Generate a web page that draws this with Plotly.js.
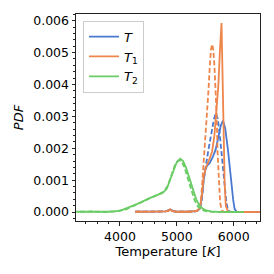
<!DOCTYPE html>
<html>
<head>
<meta charset="utf-8">
<script src="https://cdn.plot.ly/plotly-3.0.1.min.js"></script>
<style>html,body{margin:0;padding:0;background:#fff;}#chart{width:274px;height:274px;}</style>
</head>
<body>
<div id="chart"></div>
<script>
// T (blue)
const T_x = [4270, 4600, 4800, 4860, 4890, 4930, 5000, 5200, 5350, 5400, 5440, 5470, 5500, 5530, 5580, 5630, 5680, 5730, 5770, 5810, 5850, 5900, 5930, 5960, 5990, 6015, 6050, 6470];
const T_y = [0.00001, 0.00001, 0.00002, 0.00005, 0.00008, 0.00003, 0.00001, 0.00001, 0.00003, 0.00010, 0.00045, 0.00100, 0.00132, 0.00145, 0.00155, 0.00172, 0.00195, 0.00235, 0.00270, 0.00287, 0.00262, 0.00192, 0.00135, 0.00085, 0.00038, 0.00010, 0.00001, 0];
const Td_x = [4270, 4600, 4800, 4860, 4890, 4930, 5000, 5200, 5350, 5404, 5440, 5470, 5510, 5550, 5610, 5650, 5685, 5720, 5750, 5784, 5815, 5842, 5870, 5900, 5950, 6470];
const Td_y = [0.00001, 0.00001, 0.00002, 0.00006, 0.00009, 0.00003, 0.00001, 0.00001, 0.00003, 0.00008, 0.00040, 0.00100, 0.00150, 0.00190, 0.00250, 0.00290, 0.00310, 0.00292, 0.00250, 0.00192, 0.00130, 0.00080, 0.00030, 0.00005, 0, 0];
// T1 (orange)
const T1_x = [4270, 4600, 4800, 4860, 4880, 4920, 5000, 5200, 5350, 5404, 5440, 5470, 5510, 5560, 5620, 5660, 5700, 5730, 5755, 5775, 5785, 5795, 5810, 5825, 5840, 5860, 5900, 6470];
const T1_y = [0.00001, 0.00001, 0.00002, 0.00005, 0.00009, 0.00003, 0.00001, 0.00001, 0.00004, 0.00012, 0.00050, 0.00110, 0.00140, 0.00160, 0.00190, 0.00240, 0.00320, 0.00400, 0.00500, 0.00570, 0.00593, 0.00500, 0.00360, 0.00200, 0.00090, 0.00020, 0.00001, 0];
const T1d_x = [4270, 4600, 4800, 4860, 4880, 4920, 5000, 5200, 5340, 5390, 5420, 5450, 5475, 5500, 5530, 5555, 5580, 5600, 5620, 5640, 5660, 5680, 5700, 5715, 5735, 5760, 5790, 5830, 6470];
const T1d_y = [0.00001, 0.00001, 0.00002, 0.00004, 0.00008, 0.00003, 0.00001, 0.00001, 0.00003, 0.00008, 0.00030, 0.00100, 0.00160, 0.00240, 0.00310, 0.00380, 0.00460, 0.00510, 0.00526, 0.00510, 0.00460, 0.00390, 0.00300, 0.00190, 0.00090, 0.00030, 0.00005, 0, 0];
// T2 (green)
const T2_x = [3230, 3400, 3600, 3800, 4000, 4200, 4350, 4500, 4650, 4750, 4820, 4880, 4940, 5000, 5060, 5110, 5160, 5220, 5280, 5340, 5400, 5460, 5520, 5600, 5700, 5900, 6180];
const T2_y = [0.00001, 0.00001, 0.00002, 0.00001, 0.00004, 0.00018, 0.00029, 0.00042, 0.00053, 0.00060, 0.00072, 0.00100, 0.00133, 0.00157, 0.00167, 0.00160, 0.00140, 0.00104, 0.00068, 0.00040, 0.00020, 0.00010, 0.00005, 0.00002, 0.00001, 0, 0];
const T2d_x = [3300, 3500, 3700, 3900, 4100, 4250, 4400, 4550, 4680, 4770, 4840, 4900, 4960, 5030, 5080, 5130, 5190, 5250, 5310, 5370, 5430, 5500, 5600, 5800, 6100];
const T2d_y = [0.00001, 0.00002, 0.00000, 0.00002, 0.00008, 0.00020, 0.00031, 0.00045, 0.00056, 0.00064, 0.00082, 0.00113, 0.00145, 0.00162, 0.00160, 0.00142, 0.00105, 0.00068, 0.00038, 0.00018, 0.00008, 0.00003, 0.00001, 0, 0];

const C_BLUE = '#4878d0', C_ORANGE = '#ee854a', C_GREEN = '#6acc64';
const LW = 1.8, DASH = '5px,2.5px';

const traces = [
  {x: T_x, y: T_y, name: '<i>T</i>', line: {color: C_BLUE, width: LW}},
  {x: Td_x, y: Td_y, showlegend: false, line: {color: C_BLUE, width: LW, dash: DASH}},
  {x: T1_x, y: T1_y, name: '<i>T</i><sub>1</sub>', line: {color: C_ORANGE, width: LW}},
  {x: T1d_x, y: T1d_y, showlegend: false, line: {color: C_ORANGE, width: LW, dash: DASH}},
  {x: T2_x, y: T2_y, name: '<i>T</i><sub>2</sub>', line: {color: C_GREEN, width: LW}},
  {x: T2d_x, y: T2d_y, showlegend: false, line: {color: C_GREEN, width: LW, dash: DASH}}
].map(t => Object.assign({type: 'scatter', mode: 'lines', hoverinfo: 'skip'}, t));

const FONT = 'DejaVu Sans, sans-serif';
const layout = {
  width: 274, height: 274,
  margin: {l: 76, r: 14, t: 14, b: 53},
  paper_bgcolor: '#fff', plot_bgcolor: '#fff',
  font: {family: FONT, size: 12.5, color: '#000'},
  showlegend: true,
  legend: {x: 0.038, y: 0.968, xanchor: 'left', yanchor: 'top',
           bgcolor: 'rgba(255,255,255,0.8)', bordercolor: '#cccccc', borderwidth: 1,
           font: {family: FONT, size: 13}, itemwidth: 30, tracegroupgap: 0},
  xaxis: {
    range: [3228, 6461], showgrid: false, zeroline: false,
    showline: true, mirror: true, linecolor: '#222', linewidth: 1,
    ticks: 'outside', ticklen: 3.5, tickwidth: 1, tickcolor: '#222',
    tickvals: [4000, 5000, 6000], ticktext: ['4000', '5000', '6000'],
    tickfont: {family: FONT, size: 12.5},
    minor: {dtick: 200, tick0: 0, ticks: 'outside', ticklen: 2, tickwidth: 1, tickcolor: '#222', showgrid: false},
    title: {text: 'Temperature [<i>K</i>]', font: {family: FONT, size: 13}, standoff: 4}
  },
  yaxis: {
    range: [-0.00028, 0.00621], showgrid: false, zeroline: false,
    showline: true, mirror: true, linecolor: '#222', linewidth: 1,
    ticks: 'outside', ticklen: 3.5, tickwidth: 1, tickcolor: '#222',
    tickvals: [0, 0.001, 0.002, 0.003, 0.004, 0.005, 0.006],
    ticktext: ['0.000', '0.001', '0.002', '0.003', '0.004', '0.005', '0.006'],
    tickfont: {family: FONT, size: 12.5},
    minor: {dtick: 0.0002, tick0: 0, ticks: 'outside', ticklen: 2, tickwidth: 1, tickcolor: '#222', showgrid: false},
    title: {text: '<i>PDF</i>', font: {family: FONT, size: 13}, standoff: 6}
  }
};

Plotly.newPlot('chart', traces, layout, {staticPlot: true, displayModeBar: false});
</script>
</body>
</html>
